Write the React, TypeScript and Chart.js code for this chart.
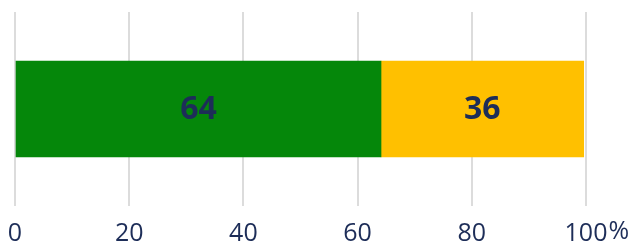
import React, { useEffect, useRef } from "react";
import { Chart, registerables } from "chart.js";

Chart.register(...registerables);

const categories = [""];
const greenValues = [64.1];
const yellowValues = [35.5];
const greenLabels = ["64"];
const yellowLabels = ["36"];
const tickValues = [0, 20, 40, 60, 80, 100];

const NAVY = "#1d2d58";

const barLabelPlugin = {
  id: "barLabels",
  afterDatasetsDraw(chart: any) {
    const ctx = chart.ctx;
    const labelSets = [greenLabels, yellowLabels];
    chart.data.datasets.forEach((ds: any, di: number) => {
      const meta = chart.getDatasetMeta(di);
      meta.data.forEach((bar: any, i: number) => {
        const p = bar.getProps(["x", "y", "base"], true);
        const cx = (p.x + p.base) / 2;
        ctx.save();
        ctx.fillStyle = NAVY;
        ctx.font = "bold 32px 'Open Sans'";
        ctx.textAlign = "center";
        ctx.textBaseline = "middle";
        ctx.fillText(labelSets[di][i], cx, p.y + 1);
        ctx.restore();
      });
    });
  },
};

const percentPlugin = {
  id: "percentSign",
  afterDraw(chart: any) {
    const scale = chart.scales.x;
    const ctx = chart.ctx;
    const last = tickValues[tickValues.length - 1];
    const x = scale.getPixelForValue(last);
    ctx.save();
    ctx.font = "25px 'Open Sans'";
    const w = ctx.measureText(String(last)).width;
    ctx.fillStyle = NAVY;
    ctx.textAlign = "left";
    ctx.textBaseline = "top";
    ctx.fillText("%", x + w / 2 + 1, scale.top + 13);
    ctx.restore();
  },
};

export default function App() {
  const ref = useRef<HTMLCanvasElement | null>(null);
  useEffect(() => {
    document.body.style.margin = "0";
    document.documentElement.style.overflow = "hidden";
    const chart = new Chart(ref.current!, {
      type: "bar",
      data: {
        labels: categories,
        datasets: [
          { data: greenValues, backgroundColor: "#05870a", borderWidth: 0 },
          { data: yellowValues, backgroundColor: "#ffc000", borderWidth: 0 },
        ],
      },
      options: {
        indexAxis: "y",
        animation: false,
        responsive: false,
        maintainAspectRatio: false,
        layout: { padding: { left: 15, right: 50, top: 12, bottom: 0 } },
        plugins: { legend: { display: false }, tooltip: { enabled: false } },
        datasets: { bar: { barThickness: 96 } },
        scales: {
          x: {
            stacked: true,
            min: 0,
            max: 100,
            afterBuildTicks: (axis: any) => {
              axis.ticks = tickValues.map((v) => ({ value: v }));
            },
            afterFit: (axis: any) => {
              axis.paddingLeft = 0;
              axis.paddingRight = 0;
            },
            border: { display: false },
            grid: { color: "#dcdcdc", lineWidth: 2, drawTicks: false },
            ticks: {
              color: NAVY,
              font: { family: "'Open Sans'", size: 25 },
              padding: 13,
              maxRotation: 0,
              autoSkip: false,
              callback: (v: any) => String(v),
            },
          },
          y: { stacked: true, display: false },
        },
      },
      plugins: [barLabelPlugin, percentPlugin],
    });
    return () => chart.destroy();
  }, []);
  return (
    <div style={{ width: 636, height: 243, overflow: "hidden" }}>
      <canvas ref={ref} width={636} height={262} style={{ display: "block" }} />
    </div>
  );
}
